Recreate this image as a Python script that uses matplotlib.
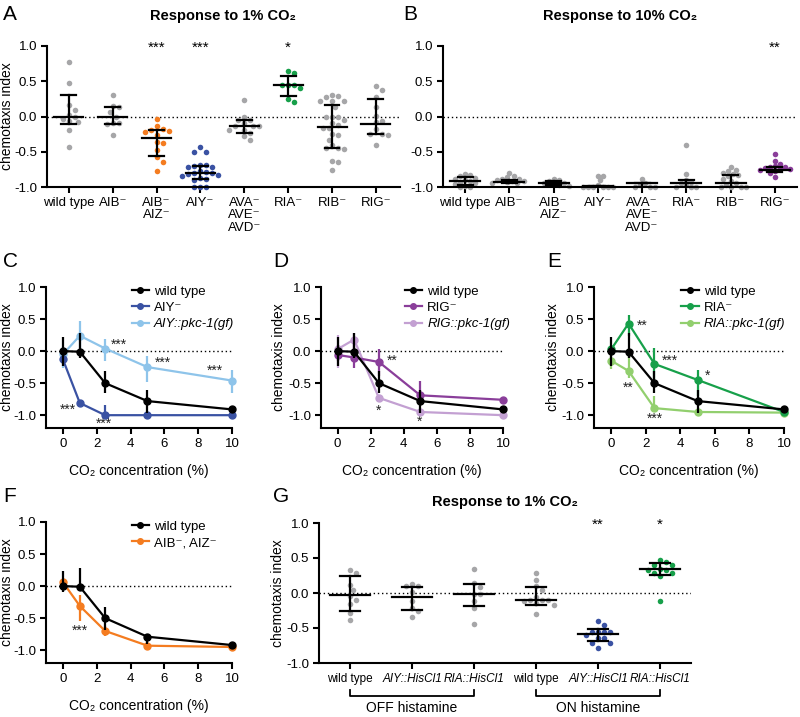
import numpy as np
import matplotlib
matplotlib.use("Agg")
import matplotlib.pyplot as plt
from matplotlib.lines import Line2D

plt.rcParams['font.family'] = ['Liberation Sans', 'DejaVu Sans']
plt.rcParams['font.size'] = 10
plt.rcParams['axes.unicode_minus'] = False
plt.rcParams['axes.linewidth'] = 1.5

GREY = '#a6a6a8'
ORANGE = '#f47c20'
BLUE = '#3a52a3'
LBLUE = '#8ec4ea'
GREEN = '#17a04a'
LGREEN = '#92cf6e'
PURPLE = '#8a3e9a'
LPURPLE = '#c3a0d2'

# ---- panel A: response to 1% CO2 ----
a_labels = ['wild type', 'AIB⁻', 'AIB⁻\nAIZ⁻', 'AIY⁻', 'AVA⁻\nAVE⁻\nAVD⁻', 'RIA⁻', 'RIB⁻', 'RIG⁻']
a_points = [
    [0.78, 0.48, 0.16, 0.09, 0.02, 0.0, -0.04, -0.07, -0.08, -0.19, -0.43],
    [0.31, 0.15, 0.13, 0.07, 0.0, -0.09, -0.09, -0.10, -0.26],
    [-0.04, -0.14, -0.18, -0.19, -0.20, -0.22, -0.26, -0.36, -0.37, -0.47, -0.58, -0.65, -0.78],
    [-0.43, -0.50, -0.50, -0.69, -0.69, -0.70, -0.71, -0.72, -0.78, -0.79, -0.80, -0.80,
     -0.81, -0.83, -0.85, -0.87, -0.88, -0.90, -1.0, -1.0, -1.0],
    [0.23, 0.0, -0.05, -0.05, -0.09, -0.13, -0.13, -0.14, -0.19, -0.19, -0.24, -0.28, -0.34],
    [0.64, 0.62, 0.45, 0.44, 0.44, 0.40, 0.25, 0.20],
    [0.31, 0.29, 0.27, 0.22, 0.22, 0.22, 0.14, 0.0, 0.0, 0.0, -0.05, -0.09, -0.12, -0.17,
     -0.17, -0.25, -0.26, -0.33, -0.41, -0.45, -0.45, -0.46, -0.63, -0.65, -0.76],
    [0.43, 0.37, 0.27, 0.13, 0.01, -0.06, -0.08, -0.18, -0.25, -0.25, -0.26, -0.41],
]
a_median = [-0.01, 0.0, -0.31, -0.80, -0.14, 0.44, -0.15, -0.10]
a_q1 = [-0.11, -0.11, -0.56, -0.89, -0.24, 0.29, -0.44, -0.25]
a_q3 = [0.30, 0.14, -0.19, -0.70, -0.05, 0.58, 0.16, 0.25]
a_colors = [GREY, GREY, ORANGE, BLUE, GREY, GREEN, GREY, GREY]
a_stars = ['', '', '***', '***', '', '*', '', '']

# ---- panel B: response to 10% CO2 ----
b_points = [
    [-0.82, -0.83, -0.85, -0.87, -0.88, -0.90, -0.92, -0.93, -0.95, -0.96, -0.98, -1.0, -1.0],
    [-0.80, -0.85, -0.86, -0.88, -0.89, -0.90, -0.91, -0.92, -0.93, -0.94, -0.95],
    [-0.89, -0.90, -0.92, -0.94, -0.95, -0.96, -0.97, -0.98],
    [-0.84, -0.84, -0.90, -0.97, -1.0, -1.0, -1.0, -1.0, -1.0, -1.0],
    [-0.89, -0.95, -0.97, -1.0, -1.0, -1.0],
    [-0.40, -0.82, -0.90, -0.93, -0.95, -0.97, -1.0, -1.0, -1.0],
    [-0.72, -0.76, -0.78, -0.80, -0.82, -0.83, -0.85, -0.88, -0.92, -0.95, -0.97, -1.0,
     -1.0, -1.0, -1.0],
    [-0.53, -0.63, -0.68, -0.70, -0.71, -0.72, -0.73, -0.74, -0.75, -0.76, -0.78, -0.80, -0.86],
]
b_median = [-0.92, -0.93, -0.95, -0.98, -0.95, -0.95, -0.94, -0.76]
b_q1 = [-0.97, -0.95, -0.97, -1.0, -1.0, -1.0, -1.0, -0.79]
b_q3 = [-0.86, -0.90, -0.91, -0.98, -0.95, -0.90, -0.83, -0.71]
b_colors = [GREY] * 7 + [PURPLE]
b_stars = [''] * 7 + ['**']

# ---- panels C-F: dose response ----
conc = [0, 1, 2.5, 5, 10]
wt_mean = [0.0, -0.01, -0.50, -0.78, -0.91]
wt_lo = [0.23, 0.09, 0.16, 0.18, 0.03]
wt_hi = [0.22, 0.30, 0.19, 0.17, 0.03]

aiy_mean = [-0.13, -0.81, -1.0, -1.0, -1.0]
aiy_lo = [0.07, 0.05, 0.0, 0.0, 0.0]
aiy_hi = [0.07, 0.05, 0.16, 0.0, 0.0]
aiy_gf_mean = [-0.05, 0.24, 0.04, -0.25, -0.46]
aiy_gf_lo = [0.22, 0.19, 0.20, 0.23, 0.19]
aiy_gf_hi = [0.12, 0.23, 0.15, 0.17, 0.17]

rig_mean = [-0.06, -0.10, -0.17, -0.69, -0.76]
rig_lo = [0.10, 0.16, 0.22, 0.05, 0.03]
rig_hi = [0.15, 0.23, 0.20, 0.23, 0.03]
rig_gf_mean = [0.03, 0.18, -0.73, -0.95, -1.0]
rig_gf_lo = [0.30, 0.18, 0.05, 0.02, 0.0]
rig_gf_hi = [0.22, 0.11, 0.05, 0.02, 0.0]

ria_mean = [0.03, 0.43, -0.20, -0.45, -0.95]
ria_lo = [0.05, 0.20, 0.29, 0.25, 0.02]
ria_hi = [0.05, 0.14, 0.25, 0.16, 0.02]
ria_gf_mean = [-0.15, -0.31, -0.89, -0.95, -0.96]
ria_gf_lo = [0.13, 0.11, 0.05, 0.02, 0.02]
ria_gf_hi = [0.17, 0.26, 0.19, 0.02, 0.02]

wtf_mean = [0.0, -0.01, -0.50, -0.79, -0.92]
wtf_lo = [0.09, 0.06, 0.19, 0.11, 0.03]
wtf_hi = [0.23, 0.30, 0.18, 0.04, 0.03]
aibaiz_mean = [0.06, -0.31, -0.70, -0.93, -0.95]
aibaiz_lo = [0.05, 0.23, 0.08, 0.02, 0.02]
aibaiz_hi = [0.03, 0.17, 0.08, 0.02, 0.02]

c_stars = [(3.3, 0.10, '***'), (5.9, -0.18, '***'), (9.0, -0.31, '***'),
           (0.3, -0.92, '***'), (2.4, -1.13, '***')]
d_stars = [(3.3, -0.15, '**'), (2.5, -0.93, '*'), (4.95, -1.11, '*')]
e_stars = [(1.8, 0.39, '**'), (3.4, -0.15, '***'), (5.6, -0.39, '*'),
           (0.97, -0.57, '**'), (2.5, -1.05, '***')]
f_stars = [(1.0, -0.69, '***')]

# ---- panel G: histamine silencing ----
g_labels = ['wild type', 'AIY::HisCl1', 'RIA::HisCl1', 'wild type', 'AIY::HisCl1', 'RIA::HisCl1']
g_points = [
    [0.33, 0.29, 0.12, 0.04, -0.04, -0.10, -0.16, -0.28, -0.39],
    [0.13, 0.10, 0.10, 0.01, -0.12, -0.21, -0.25, -0.34],
    [0.34, 0.14, 0.09, -0.01, -0.02, -0.12, -0.21, -0.44],
    [0.29, 0.19, 0.10, 0.04, -0.05, -0.10, -0.10, -0.10, -0.11, -0.14, -0.17, -0.30],
    [-0.40, -0.46, -0.55, -0.55, -0.55, -0.56, -0.60, -0.64, -0.64, -0.71, -0.71, -0.79],
    [0.47, 0.45, 0.40, 0.40, 0.34, 0.33, 0.33, 0.29, 0.29, 0.25, -0.12],
]
g_median = [-0.03, -0.06, -0.02, -0.10, -0.58, 0.34]
g_q1 = [-0.25, -0.24, -0.18, -0.17, -0.69, 0.26]
g_q3 = [0.25, 0.09, 0.13, 0.08, -0.51, 0.43]
g_colors = [GREY, GREY, GREY, GREY, BLUE, GREEN]
g_stars = ['', '', '', '', '**', '*']

W, H = 800, 717
fig = plt.figure(figsize=(8, 7.17), dpi=100)


def add_axes(left, top, right, bottom):
    return fig.add_axes([left / W, 1 - bottom / H, (right - left) / W, (bottom - top) / H])


def style(ax, ylab_center, left, right):
    for s in ['top', 'right']:
        ax.spines[s].set_visible(False)
    ax.tick_params(direction='out', length=4, width=1.5, labelsize=9.5, pad=3)
    ax.set_yticks([-1.0, -0.5, 0.0, 0.5, 1.0])
    ax.set_yticklabels(['-1.0', '-0.5', '0.0', '0.5', '1.0'])
    ax.axhline(0, color='k', ls=(0, (1, 2)), lw=1, zorder=1)
    ax.set_ylabel('chemotaxis index', fontsize=10)
    ax.yaxis.set_label_coords((ylab_center + 6 - left) / (right - left), 0.5)


def swarm(ax, x0, vals, diam):
    # simple beeswarm in pixel space
    tr = ax.transData
    placed = []
    xs = np.zeros(len(vals))
    for i in np.argsort(vals)[::-1]:
        px, py = tr.transform((x0, vals[i]))
        k = 0
        done = False
        while not done:
            for off in ([0] if k == 0 else [k, -k]):
                cx = px + off * diam * 0.5
                if all((cx - qx) ** 2 + (py - qy) ** 2 >= diam ** 2 * 0.95 for qx, qy in placed):
                    placed.append((cx, py))
                    xs[i] = tr.inverted().transform((cx, py))[0]
                    done = True
                    break
            k += 1
    return xs


def dot_panel(ax, pts, med, q1, q3, colors, stars, half=0.33, cap=0.17, diam=6):
    for i, v in enumerate(pts):
        xs = swarm(ax, i, v, diam)
        ax.scatter(xs, v, s=16, color=colors[i], lw=0, zorder=2, clip_on=False)
        ax.plot([i - half, i + half], [med[i]] * 2, color='k', lw=1.6, zorder=3)
        ax.plot([i, i], [q1[i], q3[i]], color='k', lw=1.6, zorder=3)
        ax.plot([i - cap, i + cap], [q1[i]] * 2, color='k', lw=1.6, zorder=3)
        ax.plot([i - cap, i + cap], [q3[i]] * 2, color='k', lw=1.6, zorder=3)
        if stars[i]:
            ax.text(i, 0.98, stars[i], ha='center', va='center', fontsize=11)


def line_panel(ax, series, stars):
    handles = []
    for y, lo, hi, c, lab, z in series:
        ax.errorbar(conc, y, yerr=[lo, hi], color=c, marker='o', ms=5, lw=1.6,
                    elinewidth=1.6, capsize=0, zorder=z, clip_on=False)
        handles.append(Line2D([], [], color=c, marker='o', ms=4, lw=1.6, label=lab))
    for x, y, s in stars:
        ax.text(x, y, s, ha='center', va='center', fontsize=10, color='#222222')
    ax.set_xlim(-1, 10)
    ax.set_ylim(-1.2, 1.0)
    ax.set_xticks([0, 2, 4, 6, 8, 10])
    ax.set_xlabel('CO₂ concentration (%)', fontsize=10, labelpad=10)
    leg = ax.legend(handles=handles, loc='upper left', bbox_to_anchor=(0.46, 1.01),
                    frameon=False, fontsize=9.5, handlelength=1.3, handletextpad=0.4,
                    labelspacing=0.3, borderpad=0, borderaxespad=0)
    for t in leg.get_texts():
        if '::' in t.get_text():
            t.set_fontstyle('italic')


# A
axA = add_axes(47, 46, 400, 187)
axA.set_xlim(-0.5, 7.55)
axA.set_ylim(-1.0, 1.0)
style(axA, 8, 47, 400)
axA.set_xticks(range(8))
axA.set_xticklabels(a_labels, fontsize=9.5, linespacing=1.05)
dot_panel(axA, a_points, a_median, a_q1, a_q3, a_colors, a_stars)

# B
axB = add_axes(443, 46, 797, 187)
axB.set_xlim(-0.5, 7.5)
axB.set_ylim(-1.0, 1.0)
style(axB, 410, 443, 797)
axB.set_ylabel('')
axB.set_xticks(range(8))
axB.set_xticklabels(a_labels, fontsize=9.5, linespacing=1.05)
dot_panel(axB, b_points, b_median, b_q1, b_q3, b_colors, b_stars, half=0.34, cap=0.17, diam=5)

# C
axC = add_axes(46, 287, 232, 428)
style(axC, 8, 46, 232)
line_panel(axC, [(wt_mean, wt_lo, wt_hi, 'k', 'wild type', 5),
                 (aiy_mean, aiy_lo, aiy_hi, BLUE, 'AIY⁻', 4),
                 (aiy_gf_mean, aiy_gf_lo, aiy_gf_hi, LBLUE, 'AIY::pkc-1(gf)', 3)], c_stars)

# D
axD = add_axes(321, 287, 503, 428)
style(axD, 280, 321, 503)
line_panel(axD, [(wt_mean, wt_lo, wt_hi, 'k', 'wild type', 5),
                 (rig_mean, rig_lo, rig_hi, PURPLE, 'RIG⁻', 4),
                 (rig_gf_mean, rig_gf_lo, rig_gf_hi, LPURPLE, 'RIG::pkc-1(gf)', 3)], d_stars)

# E
axE = add_axes(594, 287, 784, 428)
style(axE, 554, 594, 784)
line_panel(axE, [(wt_mean, wt_lo, wt_hi, 'k', 'wild type', 5),
                 (ria_mean, ria_lo, ria_hi, GREEN, 'RIA⁻', 4),
                 (ria_gf_mean, ria_gf_lo, ria_gf_hi, LGREEN, 'RIA::pkc-1(gf)', 3)], e_stars)

# F
axF = add_axes(46, 522, 232, 663)
style(axF, 8, 46, 232)
line_panel(axF, [(wtf_mean, wtf_lo, wtf_hi, 'k', 'wild type', 5),
                 (aibaiz_mean, aibaiz_lo, aibaiz_hi, ORANGE, 'AIB⁻, AIZ⁻', 4)], f_stars)

# G
axG = add_axes(319, 523, 691, 663)
axG.set_xlim(-0.5, 5.5)
axG.set_ylim(-1.0, 1.0)
style(axG, 279, 319, 691)
axG.set_xticks(range(6))
axG.set_xticklabels(g_labels, fontsize=8.5)
for t in axG.get_xticklabels():
    if '::' in t.get_text():
        t.set_fontstyle('italic')
dot_panel(axG, g_points, g_median, g_q1, g_q3, g_colors, g_stars, half=0.33, cap=0.16)
tr = axG.get_xaxis_transform()
for x0, x1, lab in [(0, 2, 'OFF histamine'), (3, 5, 'ON histamine')]:
    axG.plot([x0, x0, x1, x1], [-0.19, -0.235, -0.235, -0.19], color='k', lw=1.3,
             transform=tr, clip_on=False)
    axG.text((x0 + x1) / 2, -0.325, lab, transform=tr, ha='center', va='center', fontsize=10)

# titles and panel letters
fig.text(223 / W, 1 - 16 / H, 'Response to 1% CO₂', ha='center', va='center',
         fontsize=10.5, fontweight='bold')
fig.text(620 / W, 1 - 16 / H, 'Response to 10% CO₂', ha='center', va='center',
         fontsize=10.5, fontweight='bold')
fig.text(505 / W, 1 - 502 / H, 'Response to 1% CO₂', ha='center', va='center',
         fontsize=10.5, fontweight='bold')
for lab, x, y in [('A', 3, 15), ('B', 403, 15), ('C', 3, 262), ('D', 273, 262),
                  ('E', 547, 262), ('F', 3, 497), ('G', 273, 497)]:
    fig.text(x / W, 1 - y / H, lab, ha='left', va='center', fontsize=15)

fig.savefig('out.png', dpi=100)
